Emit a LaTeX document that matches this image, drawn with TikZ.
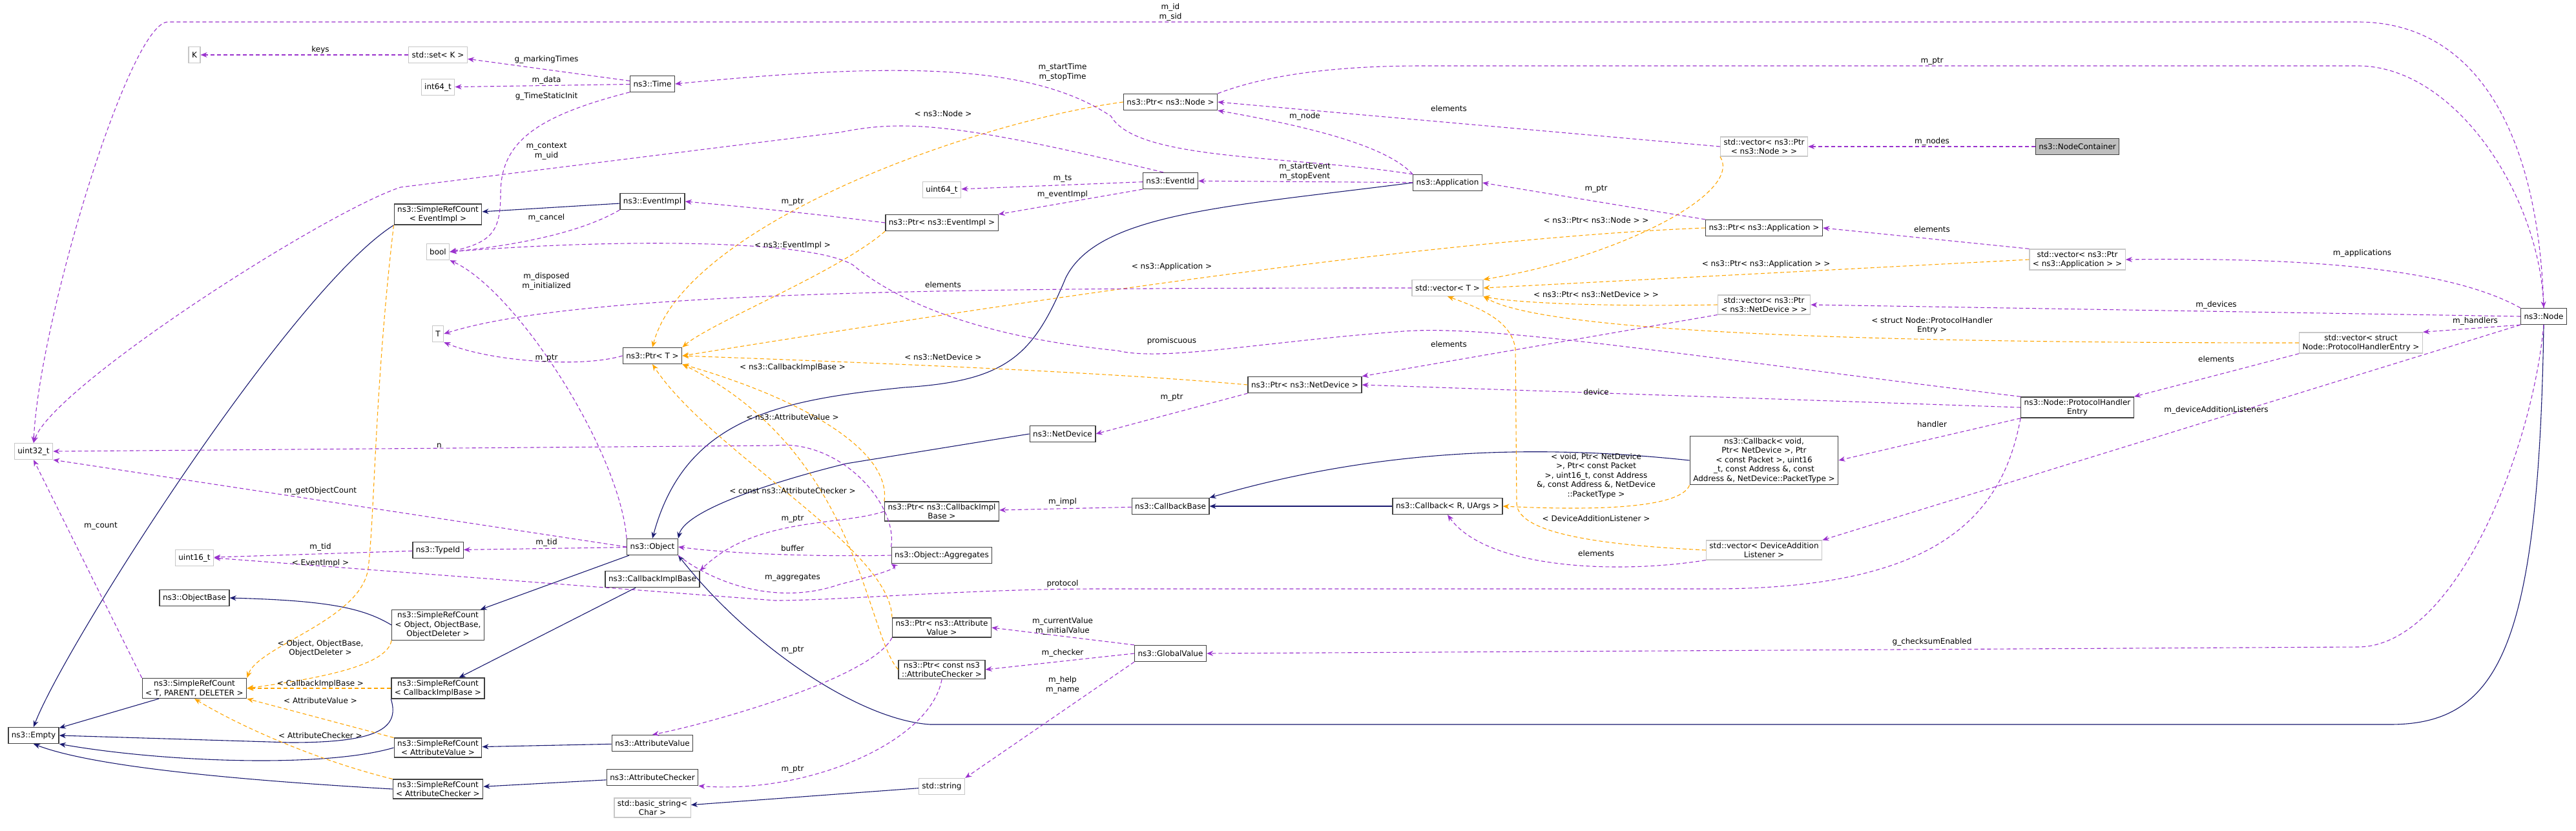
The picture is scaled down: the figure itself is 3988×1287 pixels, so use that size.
\documentclass[tikz,border=0pt]{standalone}
\usepackage{fontspec}
\setmainfont{DejaVu Sans}
\usetikzlibrary{arrows.meta}
\definecolor{usecol}{HTML}{9A32CD}
\definecolor{inhcol}{HTML}{191970}
\definecolor{tplcol}{HTML}{FFA500}
\tikzset{
  box/.style={draw=black!75,line width=1.3pt,fill=white,align=center,inner xsep=5pt,inner ysep=3pt,minimum height=25pt,font=\fontsize{12}{14.5}\selectfont},
  extbox/.style={box,draw=black!22},
  curbox/.style={box,fill=black!25},
  lbl/.style={align=center,inner sep=1pt,font=\fontsize{12}{14.5}\selectfont},
  use/.style={draw=usecol,dashed,line width=1.1pt,dash pattern=on 6pt off 4pt,->},
  inh/.style={draw=inhcol,line width=1.1pt,->},
  tpl/.style={draw=tplcol,dashed,line width=1.1pt,dash pattern=on 6pt off 4pt,->},
}
\begin{document}
\begin{tikzpicture}[>={Stealth[length=10pt,width=8pt]},x=1pt,y=-1pt]
\useasboundingbox (0,0) rectangle (3988,1287);
% classes
\node[extbox] (K) at (301,85) {K};
\node[extbox] (setK) at (678,85) {std::set< K >};
\node[extbox] (int64) at (678,135) {int64\_t};
\node[box] (Time) at (1010,130) {ns3::Time};
\node[box] (srcEv) at (678,332) {ns3::SimpleRefCount\\< EventImpl >};
\node[box] (evImpl) at (1010,312) {ns3::EventImpl};
\node[extbox] (bool) at (678,390) {bool};
\node[extbox] (T) at (678,517) {T};
\node[box] (ptrT) at (1010,551) {ns3::Ptr< T >};
\node[extbox] (u32) at (52,699) {uint32\_t};
\node[extbox] (u16) at (301,864) {uint16\_t};
\node[box] (typeId) at (678,852) {ns3::TypeId};
\node[box] (object) at (1010,847) {ns3::Object};
\node[box] (cbImplBase) at (1010,897) {ns3::CallbackImplBase};
\node[box] (objBase) at (301,926) {ns3::ObjectBase};
\node[box] (srcObj) at (678,968) {ns3::SimpleRefCount\\< Object, ObjectBase,\\ObjectDeleter >};
\node[box] (srcTpd) at (301,1066) {ns3::SimpleRefCount\\< T, PARENT, DELETER >};
\node[box] (srcCib) at (678,1066) {ns3::SimpleRefCount\\< CallbackImplBase >};
\node[box] (empty) at (52,1139) {ns3::Empty};
\node[box] (srcAv) at (678,1158) {ns3::SimpleRefCount\\< AttributeValue >};
\node[box] (attrVal) at (1010,1151) {ns3::AttributeValue};
\node[box] (srcAc) at (678,1222) {ns3::SimpleRefCount\\< AttributeChecker >};
\node[box] (attrChk) at (1010,1204) {ns3::AttributeChecker};
\node[extbox] (basicStr) at (1010,1251) {std::basic\_string<\\ Char >};
\node[box] (ptrNode) at (1812,158) {ns3::Ptr< ns3::Node >};
\node[box] (eventId) at (1812,280) {ns3::EventId};
\node[extbox] (u64) at (1458,294) {uint64\_t};
\node[box] (ptrEvImpl) at (1458,345) {ns3::Ptr< ns3::EventImpl >};
\node[box] (app) at (2241,283) {ns3::Application};
\node[extbox] (vecT) at (2241,446) {std::vector< T >};
\node[box] (ptrNetDev) at (2020,596) {ns3::Ptr< ns3::NetDevice >};
\node[box] (netDev) at (1645,672) {ns3::NetDevice};
\node[box] (ptrCib) at (1458,792) {ns3::Ptr< ns3::CallbackImpl\\Base >};
\node[box] (aggr) at (1458,860) {ns3::Object::Aggregates};
\node[box] (cbBase) at (1812,784) {ns3::CallbackBase};
\node[box] (cbR) at (2241,784) {ns3::Callback< R, UArgs >};
\node[box] (ptrAv) at (1458,972) {ns3::Ptr< ns3::Attribute\\Value >};
\node[box] (ptrAc) at (1458,1037) {ns3::Ptr< const ns3\\::AttributeChecker >};
\node[box] (globalVal) at (1812,1012) {ns3::GlobalValue};
\node[extbox] (stdStr) at (1458,1218) {std::string};
\node[extbox] (vecNode) at (2731,227) {std::vector< ns3::Ptr\\< ns3::Node > >};
\node[curbox] (nodeCont) at (3216,227) {ns3::NodeContainer};
\node[box] (ptrApp) at (2731,353) {ns3::Ptr< ns3::Application >};
\node[extbox] (vecApp) at (3216,402) {std::vector< ns3::Ptr\\< ns3::Application > >};
\node[extbox] (vecNetDev) at (2731,472) {std::vector< ns3::Ptr\\< ns3::NetDevice > >};
\node[box] (node) at (3938,490) {ns3::Node};
\node[extbox] (vecPhe) at (3655,531) {std::vector< struct\\ Node::ProtocolHandlerEntry >};
\node[box] (phe) at (3216,631) {ns3::Node::ProtocolHandler\\Entry};
\node[box] (cbVoid) at (2731,713) {ns3::Callback< void,\\ Ptr< NetDevice >, Ptr\\< const Packet >, uint16\\\_t, const Address \&, const\\ Address \&, NetDevice::PacketType >};
\node[extbox] (vecDal) at (2731,852) {std::vector< DeviceAddition\\Listener >};

% inheritance
\draw[inh] (evImpl) -- (srcEv);
\draw[inh] (srcEv.south west) .. controls (450,450) and (100,1000) .. (empty.north);
\draw[inh] (app.west) .. controls (1900,320) and (1700,330) .. (1650,430) .. controls (1600,550) and (1560,590) .. (1400,600) .. controls (1200,620) and (1060,650) .. (object.north);
\draw[inh] (netDev.west) -- (1310,718) .. controls (1200,745) and (1060,790) .. (object.north east);
\draw[inh] (node.south) .. controls (3930,1000) and (3870,1122) .. (3700,1122) -- (1440,1122) .. controls (1330,1115) and (1160,1000) .. (object.south east);
\draw[inh] (object) -- (srcObj);
\draw[inh] (srcObj.west) .. controls (560,940) and (500,930) .. (objBase.east);
\draw[inh] (srcTpd) -- (empty);
\draw[inh] (cbImplBase) -- (srcCib);
\draw[inh] (srcCib.south west) .. controls (620,1130) and (580,1150) .. (450,1150) -- (empty.east);
\draw[inh] (srcAv.west) .. controls (500,1190) and (250,1180) .. (empty.south east);
\draw[inh] (srcAc.west) .. controls (400,1210) and (150,1190) .. (empty.south);
\draw[inh] (attrVal) -- (srcAv);
\draw[inh] (attrChk) -- (srcAc);
\draw[inh] (stdStr) -- (basicStr);
\draw[inh] (cbR) -- (cbBase);
\draw[inh] (cbVoid.west) .. controls (2400,690) and (2150,690) .. (cbBase.north east);

% templates
\draw[tpl] (srcEv.south west) .. controls (580,600) and (580,800) .. (570,880) .. controls (560,960) and (400,1000) .. (srcTpd.north east);
\draw[tpl] (srcObj.south west) .. controls (600,1030) and (500,1050) .. (srcTpd.east);
\draw[tpl] (srcCib) -- (srcTpd);
\draw[tpl] (srcAv.north west) -- (srcTpd.south east);
\draw[tpl] (srcAc.north west) .. controls (500,1180) and (380,1130) .. (srcTpd.south);
\draw[tpl] (ptrNode.west) .. controls (1500,190) and (1060,350) .. (ptrT.north);
\draw[tpl] (ptrEvImpl.south west) .. controls (1300,420) and (1100,500) .. (ptrT.north east);
\draw[tpl] (ptrApp.west) .. controls (2200,370) and (1500,480) .. (ptrT.east);
\draw[tpl] (ptrNetDev.west) .. controls (1700,575) and (1300,560) .. (ptrT.east);
\draw[tpl] (ptrCib.north west) .. controls (1380,700) and (1250,620) .. (ptrT.south east);
\draw[tpl] (ptrAv.north west) .. controls (1380,850) and (1100,700) .. (ptrT.south);
\draw[tpl] (ptrAc.west) .. controls (1340,980) and (1330,700) .. (ptrT.south east);
\draw[tpl] (vecNode.south west) .. controls (2700,300) and (2500,400) .. (vecT.north east);
\draw[tpl] (vecApp.west) -- (vecT.east);
\draw[tpl] (vecNetDev.west) .. controls (2500,475) and (2350,470) .. (vecT.south east);
\draw[tpl] (vecPhe.west) .. controls (3000,531) and (2400,520) .. (vecT.south east);
\draw[tpl] (vecDal.west) .. controls (2500,845) and (2350,830) .. (2348,780) -- (2346,540) .. controls (2340,500) and (2300,480) .. (vecT.south);
\draw[tpl] (cbVoid.south west) .. controls (2600,790) and (2450,790) .. (cbR.east);

% members
\draw[use] (setK) -- (K);
\draw[use] (Time) -- (setK);
\draw[use] (Time) -- (int64);
\draw[use] (Time.200) .. controls (830,180) and (775,220) .. (775,300) .. controls (775,360) and (760,375) .. (bool.east);
\draw[use] (evImpl.south west) .. controls (900,360) and (800,380) .. (bool.east);
\draw[use] (eventId.130) .. controls (1480,190) and (1400,185) .. (1300,205) -- (620,290) .. controls (500,330) and (80,600) .. (u32.north);
\draw[use] (node.north) .. controls (3930,200) and (3830,34) .. (3650,34) -- (260,34) .. controls (200,34) and (60,500) .. (u32.north);
\draw[use] (ptrNode.north east) .. controls (1950,120) and (2050,102) .. (2200,102) -- (3650,102) .. controls (3800,102) and (3930,300) .. (node.north);
\draw[use] (ptrEvImpl.west) .. controls (1250,330) and (1150,320) .. (evImpl.east);
\draw[use] (phe.north west) .. controls (2600,550) and (2300,500) .. (2161,514) .. controls (1950,530) and (1800,560) .. (1730,543) .. controls (1500,520) and (1380,460) .. (1320,410) .. controls (1250,370) and (950,370) .. (bool.east);
\draw[use] (object.north west) .. controls (960,700) and (800,450) .. (bool.south east);
\draw[use] (vecT.west) .. controls (1500,446) and (900,450) .. (T.east);
\draw[use] (ptrT.west) .. controls (900,570) and (760,560) .. (T.south east);
\draw[use] (aggr.north west) .. controls (1390,780) and (1300,680) .. (1200,690) -- (u32.east);
\draw[use] (object.west) -- (u32.south east);
\draw[use] (srcTpd.north west) -- (u32.south);
\draw[use] (typeId) -- (u16);
\draw[use] (object) -- (typeId);
\draw[use] (phe.south west) .. controls (3100,800) and (3000,912) .. (2650,912) -- (1700,912) .. controls (1500,912) and (1300,930) .. (1200,930) -- (u16.east);
\draw[use] (aggr.west) .. controls (1300,862) and (1150,860) .. (object.east);
\draw[use] (ptrCib.west) .. controls (1300,815) and (1170,800) .. (cbImplBase.north east);
\draw[use] (object.south east) .. controls (1100,900) and (1200,940) .. (1300,905) .. controls (1360,890) and (1390,880) .. (aggr.south west);
\draw[use] (ptrAv.south west) .. controls (1350,1050) and (1100,1120) .. (attrVal.north);
\draw[use] (ptrAc.south) .. controls (1440,1150) and (1250,1230) .. (attrChk.south east);
\draw[use] (app.north west) .. controls (2150,230) and (2050,200) .. (ptrNode.south east);
\draw[use] (vecNode.west) -- (ptrNode.east);
\draw[use] (app.north west) .. controls (2000,240) and (1760,250) .. (1720,180) .. controls (1600,100) and (1400,95) .. (Time.east);
\draw[use] (app) -- (eventId);
\draw[use] (eventId) -- (u64);
\draw[use] (eventId.south west) -- (ptrEvImpl.north east);
\draw[use] (ptrApp.north west) -- (app.east);
\draw[use] (vecApp.north west) -- (ptrApp.east);
\draw[use] (vecNetDev.south west) -- (ptrNetDev.north east);
\draw[use] (ptrNetDev.south west) -- (netDev.east);
\draw[use] (phe.west) -- (ptrNetDev.east);
\draw[use] (cbBase) -- (ptrCib);
\draw[use] (vecDal.south west) .. controls (2500,890) and (2300,880) .. (cbR.south);
\draw[use] (globalVal.north west) -- (ptrAv.east);
\draw[use] (globalVal.west) -- (ptrAc.east);
\draw[use] (globalVal.south west) -- (stdStr.north east);
\draw[use] (nodeCont) -- (vecNode);
\draw[use] (node.north west) .. controls (3800,420) and (3600,398) .. (vecApp.east);
\draw[use] (node.west) -- (vecNetDev.east);
\draw[use] (node.south west) -- (vecPhe.north east);
\draw[use] (vecPhe.south west) -- (phe.north east);
\draw[use] (phe.south west) -- (cbVoid.east);
\draw[use] (node.south west) -- (vecDal.north east);
\draw[use] (node.south) .. controls (3920,700) and (3800,1002) .. (3650,1002) -- (globalVal.east);

% labels
\node[lbl] (lKeys) at (496,77) {keys};
\node[lbl] (lMark) at (846,92) {g\_markingTimes};
\node[lbl] (lData) at (846,124) {m\_data};
\node[lbl] (lStatic) at (846,149) {g\_TimeStaticInit};
\node[lbl] (lCtx) at (846,234) {m\_context\\m\_uid};
\node[lbl] (lCancel) at (846,337) {m\_cancel};
\node[lbl] (lPtrEv) at (1227,313) {m\_ptr};
\node[lbl] (lTplEv) at (1227,380) {< ns3::EventImpl >};
\node[lbl] (lDisp) at (846,436) {m\_disposed\\m\_initialized};
\node[lbl] (lPtrT) at (846,555) {m\_ptr};
\node[lbl] (lTplCib) at (1227,569) {< ns3::CallbackImplBase >};
\node[lbl] (lTplAv) at (1227,646) {< ns3::AttributeValue >};
\node[lbl] (lN) at (680,690) {n};
\node[lbl] (lGetCount) at (496,760) {m\_getObjectCount};
\node[lbl] (lCount) at (156,815) {m\_count};
\node[lbl] (lTid) at (496,847) {m\_tid};
\node[lbl] (lTplEvImpl) at (496,872) {< EventImpl >};
\node[lbl] (lTid2) at (846,840) {m\_tid};
\node[lbl] (lTplAc) at (1227,760) {< const ns3::AttributeChecker >};
\node[lbl] (lPtrCib) at (1227,804) {m\_ptr};
\node[lbl] (lBuffer) at (1227,849) {buffer};
\node[lbl] (lAggr) at (1227,895) {m\_aggregates};
\node[lbl] (lPtrAv) at (1227,1007) {m\_ptr};
\node[lbl] (lTplObj) at (496,1004) {< Object, ObjectBase,\\ObjectDeleter >};
\node[lbl] (lTplCib2) at (496,1059) {< CallbackImplBase >};
\node[lbl] (lTplAv2) at (496,1085) {< AttributeValue >};
\node[lbl] (lTplAc2) at (496,1139) {< AttributeChecker >};
\node[lbl] (lPtrAc) at (1227,1192) {m\_ptr};
\node[lbl] (lId) at (1812,19) {m\_id\\m\_sid};
\node[lbl] (lStart) at (1645,112) {m\_startTime\\m\_stopTime};
\node[lbl] (lTplNode) at (1460,176) {< ns3::Node >};
\node[lbl] (lElNode) at (2243,168) {elements};
\node[lbl] (lNodeM) at (2020,180) {m\_node};
\node[lbl] (lTs) at (1645,277) {m\_ts};
\node[lbl] (lStartEv) at (2020,266) {m\_startEvent\\m\_stopEvent};
\node[lbl] (lEvImpl) at (1645,301) {m\_eventImpl};
\node[lbl] (lPtrApp) at (2471,293) {m\_ptr};
\node[lbl] (lTplPtrNode) at (2471,341) {< ns3::Ptr< ns3::Node > >};
\node[lbl] (lTplApp) at (1814,413) {< ns3::Application >};
\node[lbl] (lElT) at (1460,441) {elements};
\node[lbl] (lTplPtrNd) at (2471,456) {< ns3::Ptr< ns3::NetDevice > >};
\node[lbl] (lProm) at (1814,528) {promiscuous};
\node[lbl] (lElNd) at (2243,533) {elements};
\node[lbl] (lTplNd) at (1460,553) {< ns3::NetDevice >};
\node[lbl] (lDevice) at (2471,607) {device};
\node[lbl] (lPtrNd) at (1814,616) {m\_ptr};
\node[lbl] (lImpl) at (1645,777) {m\_impl};
\node[lbl] (lTplVoid) at (2471,737) {< void, Ptr< NetDevice\\>, Ptr< const Packet\\>, uint16\_t, const Address\\\&, const Address \&, NetDevice\\::PacketType >};
\node[lbl] (lTplDal) at (2471,803) {< DeviceAdditionListener >};
\node[lbl] (lElDal) at (2471,857) {elements};
\node[lbl] (lProto) at (1645,904) {protocol};
\node[lbl] (lCurVal) at (1645,970) {m\_currentValue\\m\_initialValue};
\node[lbl] (lChecker) at (1645,1011) {m\_checker};
\node[lbl] (lHelp) at (1645,1061) {m\_help\\m\_name};
\node[lbl] (lPtrNode) at (2991,95) {m\_ptr};
\node[lbl] (lNodes) at (2991,219) {m\_nodes};
\node[lbl] (lElApp) at (2991,355) {elements};
\node[lbl] (lTplPtrApp) at (2734,409) {< ns3::Ptr< ns3::Application > >};
\node[lbl] (lApps) at (3657,392) {m\_applications};
\node[lbl] (lDevs) at (3431,472) {m\_devices};
\node[lbl] (lHandlers) at (3832,497) {m\_handlers};
\node[lbl] (lTplPhe) at (2991,504) {< struct Node::ProtocolHandler\\Entry >};
\node[lbl] (lElPhe) at (3431,556) {elements};
\node[lbl] (lDal) at (3431,635) {m\_deviceAdditionListeners};
\node[lbl] (lHandler) at (2991,657) {handler};
\node[lbl] (lChk) at (2991,994) {g\_checksumEnabled};
\end{tikzpicture}
\end{document}
